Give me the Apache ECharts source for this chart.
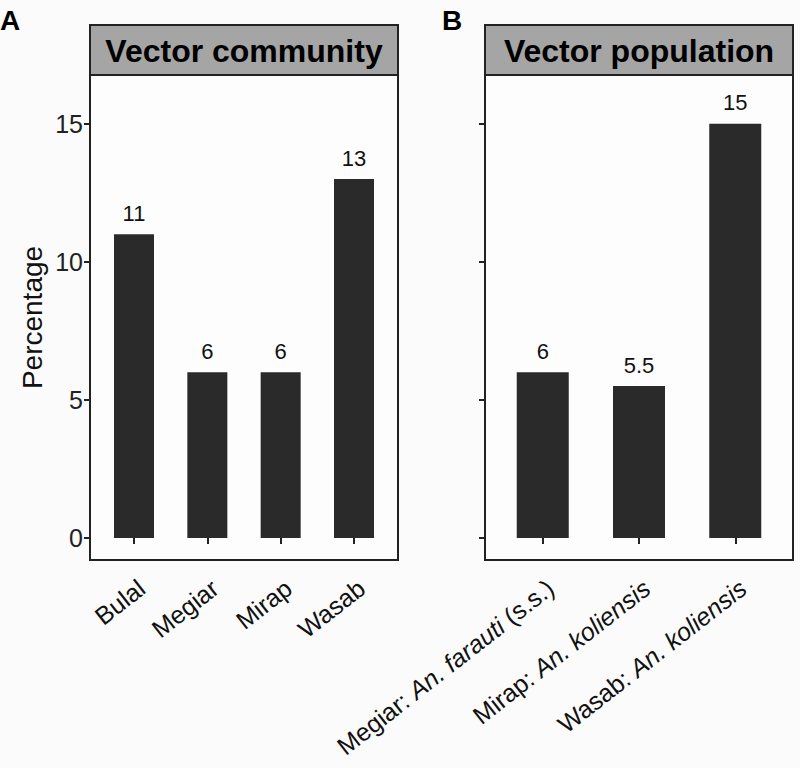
<!DOCTYPE html>
<html><head><meta charset="utf-8">
<script src="https://cdn.jsdelivr.net/npm/echarts@6/dist/echarts.min.js"></script>
<style>html,body{margin:0;padding:0;background:#fbfbfb}#c{width:800px;height:768px}</style>
</head><body><div id="c"></div>
<script>
const catsA = ['Bulal', 'Megiar', 'Mirap', 'Wasab'];
const valsA = [11, 6, 6, 13];
const catsB = [['Megiar: ', 'An. farauti', ' (s.s.)'], ['Mirap: ', 'An. koliensis', ''], ['Wasab: ', 'An. koliensis', '']];
const valsB = [6, 5.5, 15];
const yTicks = [0, 5, 10, 15];
const titleA = 'Vector community';
const titleB = 'Vector population';
const yTitle = 'Percentage';

const FONT = '"Liberation Sans", Arial, sans-serif';
const chart = echarts.init(document.getElementById('c'), null, {renderer: 'svg'});

const XFS = 25;
const richX = {
  n: {fontSize: XFS, color: '#111', fontFamily: FONT, fontStyle: 'normal', fontWeight: 'normal', verticalAlign: 'top'},
  i: {fontSize: XFS, color: '#111', fontFamily: FONT, fontStyle: 'italic', fontWeight: 'normal', verticalAlign: 'top'}
};

function xAxisFor(idx, n, formatter) {
  const pos = Array.from({length: n}, (_, i) => i + 1);
  return {
    type: 'value', gridIndex: idx, min: 0.4, max: n + 0.6,
    splitLine: {show: false}, axisLine: {show: false},
    axisTick: {show: true, customValues: pos, length: 6, lineStyle: {color: '#222', width: 2}},
    axisLabel: {show: true, customValues: pos, rotate: 38, margin: 15, verticalAlign: 'top', fontSize: XFS, color: '#111',
      fontStyle: 'normal', fontWeight: 'normal', fontFamily: FONT, formatter: formatter, rich: richX}
  };
}
function yAxisFor(idx, showLabels) {
  return {
    type: 'value', gridIndex: idx, min: -0.8, max: 16.77,
    splitLine: {show: false}, axisLine: {show: false},
    axisTick: {show: true, customValues: yTicks, length: 6, lineStyle: {color: '#222', width: 2}},
    axisLabel: {show: showLabels, customValues: yTicks, fontSize: 25, color: '#222', margin: 7, fontStyle: 'normal', fontFamily: FONT},
    name: showLabels ? yTitle : '', nameLocation: 'middle', nameGap: 44, nameRotate: 90,
    nameTextStyle: {fontSize: 28, color: '#111', fontStyle: 'normal', fontFamily: FONT}
  };
}
const labelStyle = {show: true, position: 'top', distance: 10, fontSize: 22, color: '#111', fontStyle: 'normal', fontFamily: FONT};

const gridBase = {top: 75, bottom: 208, show: true, containLabel: false, outerBoundsMode: 'none',
  backgroundColor: '#fdfdfd', borderColor: '#222', borderWidth: 2};

const option = {
  backgroundColor: '#fbfbfb',
  animation: false,
  grid: [
    Object.assign({left: 90, right: 402}, gridBase),
    Object.assign({left: 485, right: 7}, gridBase)
  ],
  xAxis: [
    xAxisFor(0, catsA.length, v => { const c = catsA[Math.round(v) - 1]; return c ? '{n|' + c + '}' : ''; }),
    xAxisFor(1, catsB.length, v => { const c = catsB[Math.round(v) - 1]; return c ? '{n|' + c[0] + '}{i|' + c[1] + '}' + (c[2] ? '{n|' + c[2] + '}' : '') : ''; })
  ],
  yAxis: [yAxisFor(0, true), yAxisFor(1, false)],
  series: [
    {type: 'bar', xAxisIndex: 0, yAxisIndex: 0, barWidth: 40, itemStyle: {color: '#2a2a2a'},
      data: valsA.map((v, i) => [i + 1, v]), label: Object.assign({formatter: p => String(p.value[1])}, labelStyle)},
    {type: 'bar', xAxisIndex: 1, yAxisIndex: 1, barWidth: 52, itemStyle: {color: '#2a2a2a'},
      data: valsB.map((v, i) => [i + 1, v]), label: Object.assign({formatter: p => String(p.value[1])}, labelStyle)}
  ],
  graphic: [
    {type: 'rect', shape: {x: 90, y: 25, width: 308, height: 50}, style: {fill: '#a5a5a5', stroke: '#222', lineWidth: 2}},
    {type: 'text', x: 244, y: 51, style: {text: titleA, fontSize: 32, fontWeight: 'bold', fill: '#000', fontFamily: FONT, align: 'center', verticalAlign: 'middle'}},
    {type: 'rect', shape: {x: 485, y: 25, width: 308, height: 50}, style: {fill: '#a5a5a5', stroke: '#222', lineWidth: 2}},
    {type: 'text', x: 639, y: 51, style: {text: titleB, fontSize: 32, fontWeight: 'bold', fill: '#000', fontFamily: FONT, align: 'center', verticalAlign: 'middle'}},
    {type: 'text', x: 0, y: 20, style: {text: 'A', fontSize: 28, fontWeight: 'bold', fill: '#000', fontFamily: FONT, verticalAlign: 'middle'}},
    {type: 'text', x: 442, y: 20, style: {text: 'B', fontSize: 28, fontWeight: 'bold', fill: '#000', fontFamily: FONT, verticalAlign: 'middle'}}
  ]
};
chart.setOption(option);
</script></body></html>
